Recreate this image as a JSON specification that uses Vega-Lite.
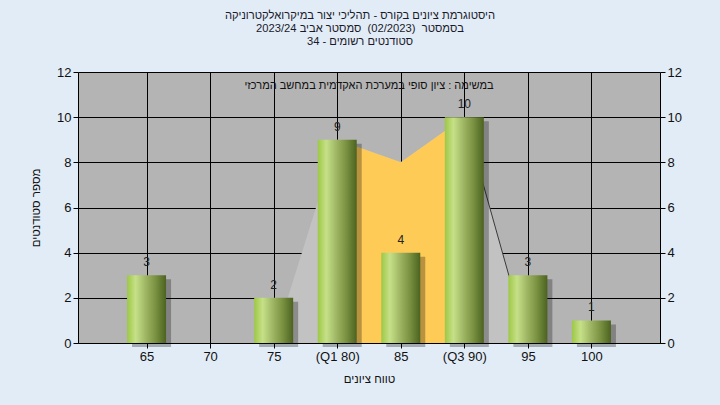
{
  "$schema": "https://vega.github.io/schema/vega-lite/v6.json",
  "width": 582,
  "height": 271,
  "autosize": {"type": "none"},
  "padding": {"left": 78, "top": 72, "right": 60, "bottom": 62},
  "background": "#e2ecf7",
  "title": {
    "text": ["היסטוגרמת ציונים בקורס - תהליכי יצור במיקרואלקטרוניקה", "בסמסטר \u00a0(02/2023)\u00a0 סמסטר אביב 2023/24", "סטודנטים רשומים - 34"],
    "font": "Liberation Sans",
    "fontSize": 11.2,
    "fontWeight": "normal",
    "color": "#1a1a2a",
    "anchor": "middle",
    "frame": "group",
    "dx": -9,
    "offset": 19,
    "lineHeight": 13
  },
  "config": {
    "view": {"fill": "#b4b4b4", "stroke": null},
    "axis": {
      "domainColor": "#000000",
      "domainWidth": 1,
      "tickColor": "#000000",
      "tickSize": 5,
      "gridColor": "#000000",
      "gridOpacity": 1,
      "gridWidth": 1,
      "labelFont": "Liberation Sans",
      "labelFontSize": 13,
      "labelColor": "#111111",
      "labelPadding": 2,
      "titleFont": "Liberation Sans",
      "titleFontSize": 11.5,
      "titleFontWeight": "normal",
      "titleColor": "#111111"
    }
  },
  "datasets": {
    "bars": [
      {"grade": 65, "n": 3},
      {"grade": 75, "n": 2},
      {"grade": 80, "n": 9},
      {"grade": 85, "n": 4},
      {"grade": 90, "n": 10},
      {"grade": 95, "n": 3},
      {"grade": 100, "n": 1}
    ],
    "poly": [
      {"grade": 75, "n": 0},
      {"grade": 80, "n": 9},
      {"grade": 85, "n": 8},
      {"grade": 90, "n": 10},
      {"grade": 95, "n": 0}
    ],
    "iqr": [
      {"grade": 80, "n": 9},
      {"grade": 85, "n": 8},
      {"grade": 90, "n": 10}
    ],
    "tail": [
      {"grade": 90, "n": 10},
      {"grade": 95, "n": 0}
    ],
    "note": [
      {"label": "במשימה : ציון סופי במערכת האקדמית במחשב המרכזי"}
    ]
  },
  "resolve": {"axis": {"y": "independent"}},
  "layer": [
    {
      "data": {"name": "poly"},
      "mark": {"type": "area", "color": "#c2c2c2", "interpolate": "linear"},
      "encoding": {
        "x": {
          "field": "grade", "type": "quantitative",
          "scale": {"domain": [60, 105], "nice": false, "zero": false},
          "axis": {
            "values": [65, 70, 75, 80, 85, 90, 95, 100],
            "grid": true,
            "title": "טווח ציונים",
            "titlePadding": 10,
            "labelExpr": "datum.value == 80 ? '(Q1 80)' : datum.value == 90 ? '(Q3 90)' : datum.label"
          }
        },
        "y": {
          "field": "n", "type": "quantitative",
          "scale": {"domain": [0, 12], "nice": false},
          "axis": {
            "values": [0, 2, 4, 6, 8, 10, 12],
            "grid": true,
            "title": "מספר סטודנטים",
            "titlePadding": 15
          }
        }
      }
    },
    {
      "data": {"name": "iqr"},
      "mark": {"type": "area", "color": "#ffcb57", "interpolate": "linear"},
      "encoding": {
        "x": {"field": "grade", "type": "quantitative"},
        "y": {"field": "n", "type": "quantitative", "axis": null}
      }
    },
    {
      "data": {"name": "tail"},
      "mark": {"type": "line", "color": "#3a3a3a", "strokeWidth": 1},
      "encoding": {
        "x": {"field": "grade", "type": "quantitative"},
        "y": {"field": "n", "type": "quantitative", "axis": null}
      }
    },
    {
      "data": {"name": "bars"},
      "mark": {"type": "bar", "width": 39, "xOffset": 5, "yOffset": 4, "color": "#000000", "opacity": 0.28},
      "encoding": {
        "x": {"field": "grade", "type": "quantitative"},
        "y": {"field": "n", "type": "quantitative", "axis": null}
      }
    },
    {
      "data": {"name": "bars"},
      "mark": {
        "type": "bar",
        "width": 39,
        "fill": {
          "gradient": "linear", "x1": 0, "x2": 1, "y1": 0, "y2": 0,
          "stops": [
            {"offset": 0, "color": "#9dc845"},
            {"offset": 0.22, "color": "#c6e088"},
            {"offset": 0.45, "color": "#a3bb68"},
            {"offset": 0.75, "color": "#768e3e"},
            {"offset": 1, "color": "#4b6320"}
          ]
        }
      },
      "encoding": {
        "x": {"field": "grade", "type": "quantitative"},
        "y": {
          "field": "n", "type": "quantitative",
          "axis": {"orient": "right", "values": [0, 2, 4, 6, 8, 10, 12], "grid": false, "title": null}
        }
      }
    },
    {
      "data": {"name": "bars"},
      "mark": {"type": "text", "baseline": "bottom", "dy": -6, "font": "Liberation Sans", "fontSize": 12, "color": "#222222"},
      "encoding": {
        "x": {"field": "grade", "type": "quantitative"},
        "y": {"field": "n", "type": "quantitative", "axis": null},
        "text": {"field": "n", "type": "quantitative"}
      }
    },
    {
      "data": {"name": "note"},
      "mark": {"type": "text", "font": "Liberation Sans", "fontSize": 11, "color": "#111111", "baseline": "middle"},
      "encoding": {
        "x": {"datum": 82.5, "type": "quantitative"},
        "y": {"datum": 11.4, "type": "quantitative", "axis": null},
        "text": {"field": "label", "type": "nominal"}
      }
    }
  ]
}
